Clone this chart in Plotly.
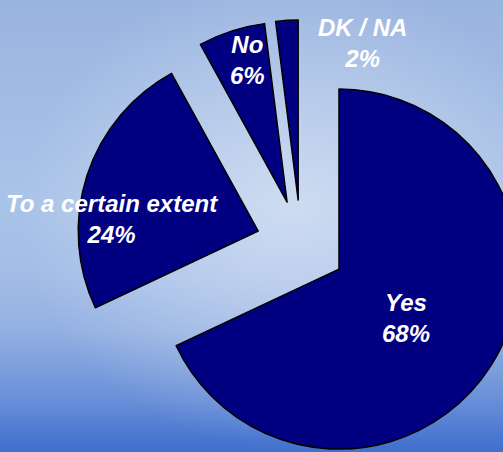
import base64
import plotly.graph_objects as go

# Survey answers and their shares (%)
labels = ["Yes", "To a certain extent", "No", "DK / NA"]
shares = [68, 24, 6, 2]

# Label anchor points (pixels from top-left of the figure)
label_px = [(406, 318), (112, 219), (247, 60), (362, 43)]

W, H = 540, 480

# Pie placement: centre and radius in pixels
cx, cy, r, pull = 301, 245, 180, 0.25
half_box = r * (1 + pull)

# Soft blue backdrop drawn as an SVG gradient image
svg = f"""<svg xmlns="http://www.w3.org/2000/svg" width="{W}" height="{H}" viewBox="0 0 {W} {H}" preserveAspectRatio="none">
<defs>
<linearGradient id="v" x1="0" y1="0" x2="0" y2="1">
<stop offset="0" stop-color="#9ab4e0"/>
<stop offset="0.42" stop-color="#aac3e8"/>
<stop offset="0.58" stop-color="#a2bce6"/>
<stop offset="0.69" stop-color="#93b0e2"/>
<stop offset="0.83" stop-color="#6a90d8"/>
<stop offset="0.92" stop-color="#4674cf"/>
<stop offset="1" stop-color="#3466c8"/>
</linearGradient>
<radialGradient id="g" cx="0.54" cy="0.44" r="0.5">
<stop offset="0" stop-color="#ffffff" stop-opacity="0.42"/>
<stop offset="0.6" stop-color="#ffffff" stop-opacity="0.18"/>
<stop offset="1" stop-color="#ffffff" stop-opacity="0"/>
</radialGradient>
</defs>
<rect width="{W}" height="{H}" fill="url(#v)"/>
<rect width="{W}" height="{H}" fill="url(#g)"/>
</svg>"""
bg_uri = "data:image/svg+xml;base64," + base64.b64encode(svg.encode()).decode()

fig = go.Figure(
    go.Pie(
        labels=labels,
        values=shares,
        sort=False,
        direction="clockwise",
        rotation=0,
        pull=[pull] * len(shares),
        marker=dict(colors=["#000080"] * len(shares), line=dict(color="#000000", width=1.5)),
        textinfo="none",
        hoverinfo="label+percent",
        showlegend=False,
        domain=dict(
            x=[(cx - half_box) / W, (cx + half_box) / W],
            y=[1 - (cy + half_box) / H, 1 - (cy - half_box) / H],
        ),
    )
)

for lab, val, (px, py) in zip(labels, shares, label_px):
    fig.add_annotation(
        text=f"<b><i>{lab}<br>{val}%</i></b>",
        x=px / W,
        y=1 - py / H,
        xref="paper",
        yref="paper",
        xanchor="center",
        yanchor="middle",
        showarrow=False,
        align="center",
        font=dict(family="Liberation Sans, Arial, sans-serif", size=24, color="#ffffff"),
    )

fig.update_layout(
    width=W,
    height=H,
    margin=dict(l=0, r=0, t=0, b=0),
    paper_bgcolor="#a8c0e8",
    plot_bgcolor="rgba(0,0,0,0)",
    images=[
        dict(
            source=bg_uri,
            xref="paper",
            yref="paper",
            x=0,
            y=1,
            sizex=1,
            sizey=1,
            xanchor="left",
            yanchor="top",
            sizing="stretch",
            layer="below",
        )
    ],
)

fig.write_html("out.html")
